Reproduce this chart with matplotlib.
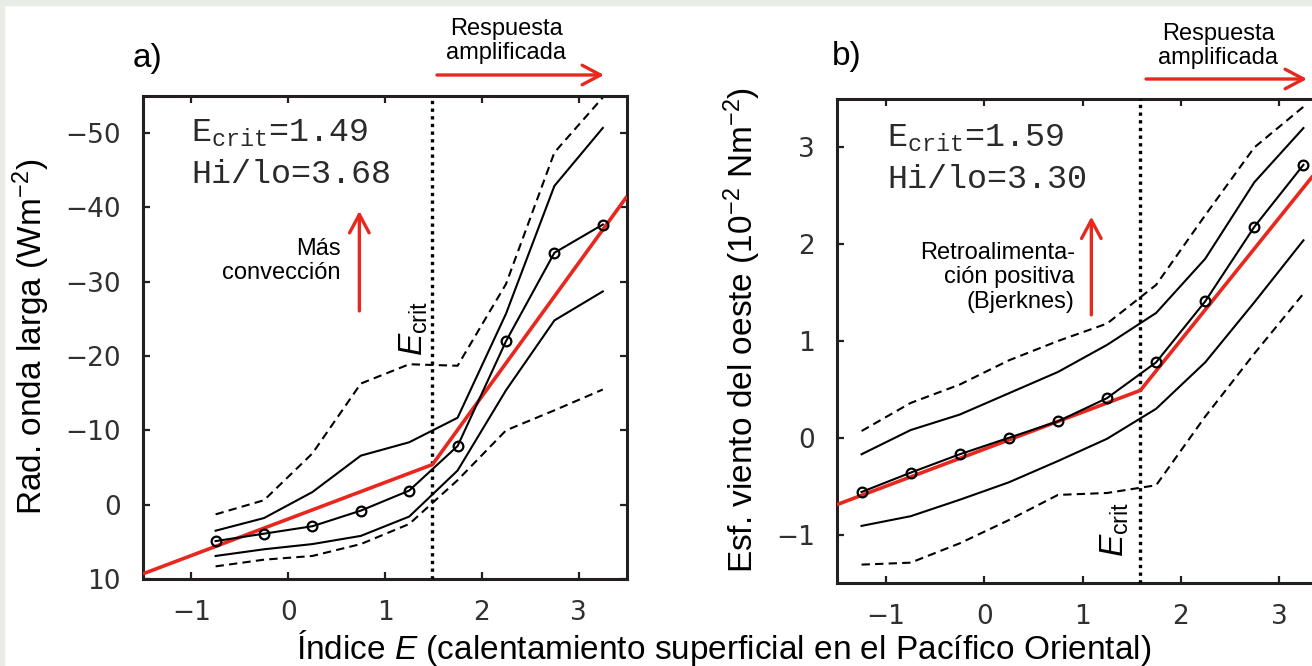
import matplotlib
matplotlib.use('Agg')
import matplotlib.pyplot as plt
from matplotlib.patches import Rectangle, FancyArrowPatch

# ----- data -----
# panel a: outgoing longwave radiation anomaly vs E index
bins_a = [-0.75, -0.25, 0.25, 0.75, 1.25, 1.75, 2.25, 2.75, 3.25]
olr_mean = [4.9, 3.9, 2.9, 0.8, -1.9, -7.9, -22.0, -33.9, -37.7]
olr_hi1 = [3.5, 1.8, -1.7, -6.6, -8.4, -11.7, -25.7, -42.9, -50.7]
olr_lo1 = [6.9, 6.0, 5.3, 4.2, 1.6, -4.6, -15.4, -24.8, -28.7]
olr_hi2 = [1.3, -0.6, -6.9, -16.3, -18.9, -18.7, -29.7, -47.4, -54.8]
olr_lo2 = [8.3, 7.4, 6.9, 5.3, 2.6, -3.3, -10.0, -12.7, -15.5]
fit_a_x = [-1.5, 1.49, 3.5]
fit_a_y = [9.3, -5.4, -41.5]
ecrit_a = 1.49

# panel b: westerly wind stress vs E index
bins_b = [-1.25, -0.75, -0.25, 0.25, 0.75, 1.25, 1.75, 2.25, 2.75, 3.25]
tau_mean = [-0.56, -0.36, -0.17, 0.0, 0.17, 0.41, 0.78, 1.41, 2.18, 2.82]
tau_hi1 = [-0.17, 0.08, 0.24, 0.46, 0.68, 0.96, 1.29, 1.85, 2.64, 3.20]
tau_lo1 = [-0.91, -0.81, -0.64, -0.46, -0.24, -0.01, 0.30, 0.78, 1.40, 2.04]
tau_hi2 = [0.07, 0.36, 0.55, 0.80, 1.00, 1.18, 1.58, 2.30, 3.00, 3.42]
tau_lo2 = [-1.31, -1.29, -1.09, -0.85, -0.59, -0.57, -0.49, 0.22, 0.87, 1.49]
fit_b_x = [-1.5, 1.59, 3.5]
fit_b_y = [-0.69, 0.49, 2.90]
ecrit_b = 1.59

xticks = [-1, 0, 1, 2, 3]
yticks_a = [-50, -40, -30, -20, -10, 0, 10]
yticks_b = [-1, 0, 1, 2, 3]

RED = '#e8281e'
DARK = '#231f20'
SANS = 'Liberation Sans'
TICKFONT = 'DejaVu Sans'
ARROW = '->,head_length=0.6,head_width=0.32'

plt.rcParams['mathtext.fontset'] = 'custom'
plt.rcParams['mathtext.rm'] = SANS
plt.rcParams['mathtext.it'] = SANS + ':italic'
plt.rcParams['mathtext.tt'] = 'Liberation Mono'

W, H = 1312, 666
fig = plt.figure(figsize=(W / 100, H / 100), dpi=100)
fig.patch.set_facecolor('white')
# thin grey page border on top and left
fig.patches.append(Rectangle((0, 1 - 5 / H), 1, 5 / H, transform=fig.transFigure,
                             color='#e9ece5', zorder=0))
fig.patches.append(Rectangle((0, 0), 4 / W, 1, transform=fig.transFigure,
                             color='#e9ece5', zorder=0))


def px_axes(left, top, right, bottom):
    return fig.add_axes([left / W, (H - bottom) / H, (right - left) / W, (bottom - top) / H])


def style_axes(ax):
    for sp in ax.spines.values():
        sp.set_linewidth(2.2)
        sp.set_color(DARK)
    ax.tick_params(direction='in', length=5, width=1.6, color=DARK,
                   top=True, right=True, labelsize=19)
    ax.tick_params(axis='x', pad=15)
    ax.tick_params(axis='y', pad=16)
    for lab in ax.get_xticklabels() + ax.get_yticklabels():
        lab.set_fontfamily(TICKFONT)
        lab.set_color('#303030')


def draw_panel(ax, x, mean, hi1, lo1, hi2, lo2, fx, fy, ecrit):
    ax.plot(x, hi2, color='black', lw=1.5, ls=(0, (4, 2.5)))
    ax.plot(x, lo2, color='black', lw=1.5, ls=(0, (4, 2.5)))
    ax.plot(x, hi1, color='black', lw=1.5)
    ax.plot(x, lo1, color='black', lw=1.5)
    ax.plot(fx, fy, color=RED, lw=2.6, zorder=4, solid_capstyle='butt')
    ax.plot(x, mean, color='black', lw=1.5, marker='o', ms=7, mfc='none',
            mec='black', mew=1.6, zorder=5)
    ax.axvline(ecrit, color='black', lw=2.4, ls=(0, (1, 1.3)), zorder=3)


def up_arrow(ax, x, y0, y1):
    ax.annotate('', xy=(x, y1), xytext=(x, y0), xycoords='axes fraction',
                arrowprops=dict(arrowstyle=ARROW, color=RED, lw=2.4,
                                mutation_scale=22, shrinkA=0, shrinkB=0))


# ----- panel a -----
ax1 = px_axes(143, 96, 627, 579)
draw_panel(ax1, bins_a, olr_mean, olr_hi1, olr_lo1, olr_hi2, olr_lo2,
           fit_a_x, fit_a_y, ecrit_a)
ax1.set_xlim(-1.5, 3.5)
ax1.set_ylim(10, -55)
ax1.set_xticks(xticks)
ax1.set_yticks(yticks_a)
style_axes(ax1)
ax1.text(0.1, 0.905, r'E$_{\mathtt{crit}}$=1.49', transform=ax1.transAxes,
         family='Liberation Mono', fontsize=24, va='baseline', color='#2a2a2a')
ax1.text(0.1, 0.820, 'Hi/lo=3.68', transform=ax1.transAxes,
         family='Liberation Mono', fontsize=24, va='baseline', color='#2a2a2a')
ax1.text(ecrit_a - 0.03, -20.0, r'$\mathit{E}_{\mathrm{crit}}$', rotation=90,
         ha='right', va='bottom', fontsize=24, family=SANS)
ax1.text(0.409, 0.658, 'Más\nconvección', transform=ax1.transAxes, ha='right',
         va='center', fontsize=17, family=SANS, linespacing=1.15)
up_arrow(ax1, 0.447, 0.555, 0.762)

# ----- panel b -----
ax2 = px_axes(837, 99, 1328, 583)
draw_panel(ax2, bins_b, tau_mean, tau_hi1, tau_lo1, tau_hi2, tau_lo2,
           fit_b_x, fit_b_y, ecrit_b)
ax2.set_xlim(-1.5, 3.5)
ax2.set_ylim(-1.5, 3.5)
ax2.set_xticks(xticks)
ax2.set_yticks(yticks_b)
style_axes(ax2)
ax2.text(0.102, 0.901, r'E$_{\mathtt{crit}}$=1.59', transform=ax2.transAxes,
         family='Liberation Mono', fontsize=24, va='baseline', color='#2a2a2a')
ax2.text(0.102, 0.816, 'Hi/lo=3.30', transform=ax2.transAxes,
         family='Liberation Mono', fontsize=24, va='baseline', color='#2a2a2a')
ax2.text(ecrit_b - 0.1, -1.23, r'$\mathit{E}_{\mathrm{crit}}$', rotation=90,
         ha='right', va='bottom', fontsize=24, family=SANS)
ax2.text(0.484, 0.632, 'Retroalimenta-\nción positiva\n(Bjerknes)', transform=ax2.transAxes,
         ha='right', va='center', fontsize=17, family=SANS, linespacing=1.15)
up_arrow(ax2, 0.518, 0.554, 0.757)

# ----- figure level labels -----
def fx(px):
    return px / W


def fy(py):
    return (H - py) / H


fig.text(fx(148), fy(58), 'a)', fontsize=24, family=SANS, ha='center', va='center')
fig.text(fx(847), fy(56), 'b)', fontsize=24, family=SANS, ha='center', va='center')

fig.text(fx(506), fy(41), 'Respuesta\namplificada', fontsize=17, family=SANS,
         ha='center', va='center', linespacing=1.1)
fig.text(fx(1218), fy(46), 'Respuesta\namplificada', fontsize=17, family=SANS,
         ha='center', va='center', linespacing=1.1)
for x0, x1, y0 in [(437, 604, 75), (1146, 1307, 79)]:
    fig.patches.append(FancyArrowPatch(
        (fx(x0), fy(y0)), (fx(x1), fy(y0)), transform=fig.transFigure,
        arrowstyle=ARROW, mutation_scale=22, color=RED, lw=2.4,
        shrinkA=0, shrinkB=0))

fig.text(fx(724), fy(659), r'Índice $\mathit{E}$ (calentamiento superficial en el Pacífico Oriental)',
         fontsize=24, family=SANS, ha='center', va='baseline')
fig.text(fx(31), fy(337), r'Rad. onda larga (Wm$^{\mathregular{-2}}$)', rotation=90,
         fontsize=24, family=SANS, ha='center', va='center')
fig.text(fx(742), fy(330), r'Esf. viento del oeste (10$^{\mathregular{-2}}$ Nm$^{\mathregular{-2}}$)',
         rotation=90, fontsize=24, family=SANS, ha='center', va='center')

fig.savefig('out.png', dpi=100)
